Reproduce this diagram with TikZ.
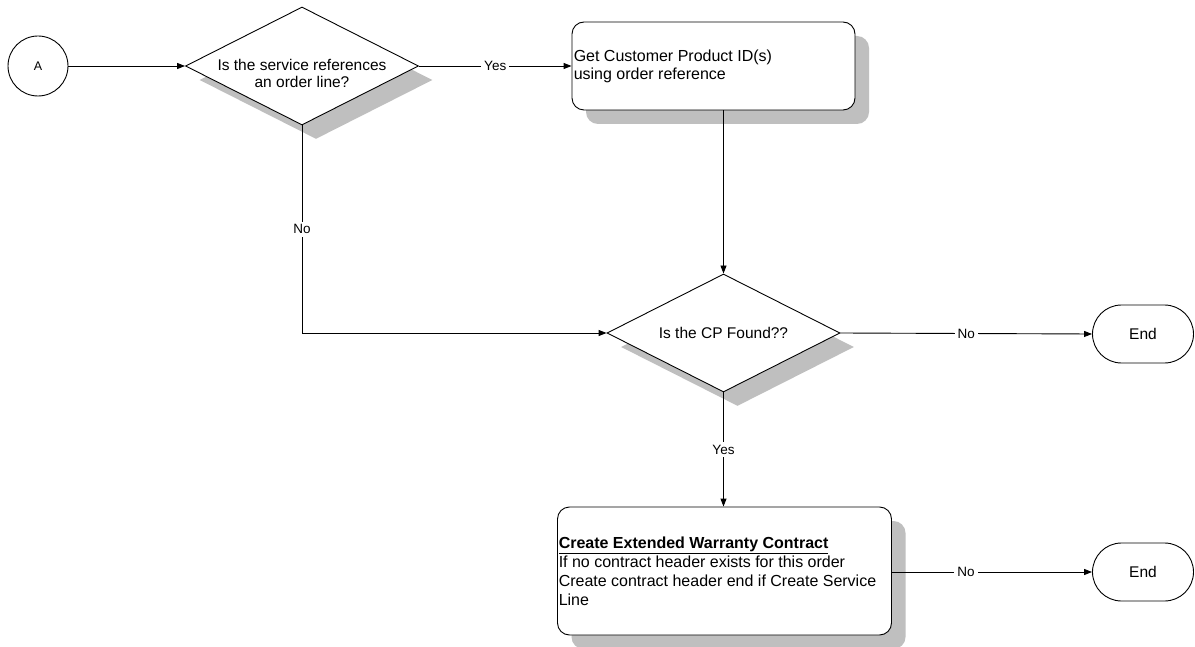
\documentclass[tikz,border=0pt]{standalone}
\usepackage{fontspec}
\setmainfont{Liberation Sans}
\usetikzlibrary{shapes.geometric,shapes.misc,shadows,arrows.meta,calc}
\begin{document}
\begin{tikzpicture}[x=1pt,y=-1pt,
  font=\fontsize{15.5}{18}\selectfont,
  shad/.style={drop shadow={shadow xshift=14pt,shadow yshift=-14pt,fill=black!25,opacity=1}},
  decision/.style={diamond,draw,fill=white,shad,minimum width=233pt,minimum height=118pt,inner sep=0pt,line width=0.9pt},
  procbox/.style={rectangle,rounded corners=12pt,draw,fill=white,shad,inner sep=0pt,line width=0.9pt},
  terminal/.style={rounded rectangle,draw,fill=white,minimum width=101pt,minimum height=58pt,inner sep=0pt,line width=0.9pt},
  lbl/.style={fill=white,inner sep=3pt,font=\fontsize{13.5}{15}\selectfont},
  flow/.style={draw,line width=0.9pt,-{Triangle[length=8pt,width=6pt]}}]
\useasboundingbox[fill=white] (0,0) rectangle (1195,647);

\node[circle,draw,line width=0.9pt,minimum size=60pt,inner sep=0pt,font=\fontsize{12.5}{14}\selectfont] (A) at (38,66) {A};

\node[decision] (d1) at (302,66) {};
\node[align=center,font=\fontsize{15.5}{17}\selectfont] (d1t) at (302,73) {Is the service references\\an order line?};

\node[procbox,minimum width=283pt,minimum height=88pt] (b2) at (713.5,66) {};
\node[anchor=west,align=left,inner xsep=2pt,font=\fontsize{16}{18}\selectfont] (b2t) at (b2.west) {Get Customer Product ID(s)\\using order reference};

\node[decision] (d2) at (723.5,333) {};
\node (d2t) at (723.5,333) {Is the CP Found??};

\node[terminal] (e1) at (1143,334) {End};

\node[procbox,minimum width=334pt,minimum height=128pt] (b3) at (724.5,571) {};
\node[anchor=west,align=left,inner xsep=1.5pt,font=\fontsize{16}{19}\selectfont] (b3t) at (b3.west) {\underline{\textbf{Create Extended Warranty Contract}}\\If no contract header exists for this order\\Create contract header end if Create Service\\Line};

\node[terminal] (e2) at (1143,572) {End};

\path[flow] (A.east) -- (d1.west);
\path[flow] (d1.east) -- node[lbl] {Yes} (b2.west);
\path[flow] (b2.south -| d2.north) -- (d2.north);
\path[flow] (d1.south) |- node[lbl,pos=0.25] {No} (d2.west);
\path[flow] (d2.east) -- node[lbl] {No} (e1.west);
\path[flow] (d2.south) -- node[lbl] {Yes} (b3.north -| d2.south);
\path[flow] (b3.east |- e2.west) -- node[lbl,pos=0.37] {No} (e2.west);
\end{tikzpicture}
\end{document}
